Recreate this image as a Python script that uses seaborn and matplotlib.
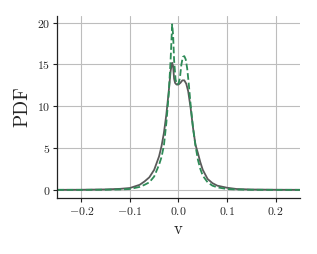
import numpy as np
import pandas as pd
import matplotlib
matplotlib.use("Agg")
import matplotlib.pyplot as plt
import seaborn as sns

# gray solid curve
v_a = [-0.25, -0.2, -0.15, -0.12, -0.1, -0.08, -0.07, -0.06, -0.05, -0.04, -0.035, -0.03, -0.025,
       -0.02, -0.016, -0.013, -0.011, -0.009, -0.007, -0.004, 0.0, 0.004, 0.008, 0.012, 0.016,
       0.02, 0.025, 0.03, 0.035, 0.04, 0.045, 0.05, 0.06, 0.07, 0.08, 0.1, 0.12, 0.15, 0.2, 0.25]
pdf_a = [0.0, 0.01, 0.05, 0.12, 0.22, 0.6, 1.0, 1.5, 2.4, 4.0, 5.2, 6.8, 9.0,
         11.8, 14.3, 15.2, 14.8, 13.3, 12.8, 12.6, 12.6, 12.8, 13.1, 13.1, 12.7,
         11.8, 9.8, 7.4, 5.4, 4.4, 3.3, 2.4, 1.3, 0.8, 0.5, 0.25, 0.1, 0.04, 0.01, 0.0]

# green dashed curve
v_b = [-0.25, -0.2, -0.15, -0.12, -0.1, -0.08, -0.07, -0.06, -0.05, -0.04, -0.035, -0.03, -0.025,
       -0.02, -0.016, -0.013, -0.011, -0.009, -0.006, -0.003, 0.0, 0.003, 0.006, 0.009, 0.012,
       0.015, 0.018, 0.021, 0.025, 0.03, 0.035, 0.04, 0.045, 0.05, 0.06, 0.07, 0.08, 0.1, 0.12,
       0.15, 0.2, 0.25]
pdf_b = [0.0, 0.0, 0.02, 0.05, 0.1, 0.35, 0.6, 0.9, 1.6, 3.0, 3.9, 5.3, 8.0,
         11.5, 15.8, 19.8, 18.5, 15.5, 13.2, 12.6, 12.7, 13.4, 15.0, 15.9, 16.0,
         15.6, 14.5, 12.8, 10.2, 7.4, 5.3, 3.6, 2.5, 1.7, 0.9, 0.5, 0.3, 0.1, 0.04,
         0.01, 0.0, 0.0]

sns.set_style("whitegrid", {"grid.color": "#bdbdbd", "axes.edgecolor": "#222222",
                            "xtick.bottom": True, "ytick.left": True})
plt.rcParams["font.family"] = ["cmr10", "DejaVu Serif"]
plt.rcParams["mathtext.fontset"] = "cm"
plt.rcParams["axes.formatter.use_mathtext"] = True

fig, ax = plt.subplots(figsize=(3.17, 2.54), dpi=100)
fig.subplots_adjust(left=0.18, right=0.946, top=0.937, bottom=0.22)

df_a = pd.DataFrame({"v": v_a, "pdf": pdf_a})
df_b = pd.DataFrame({"v": v_b, "pdf": pdf_b})
sns.lineplot(data=df_a, x="v", y="pdf", ax=ax, color="#5a5a5a", lw=1.3)
sns.lineplot(data=df_b, x="v", y="pdf", ax=ax, color="#2e8b57", lw=1.3, linestyle="--")

ax.set_xlim(-0.25, 0.25)
ax.set_ylim(-0.99, 20.8)
ax.set_xticks([-0.2, -0.1, 0.0, 0.1, 0.2])
ax.set_xticklabels(["$-0.2$", "$-0.1$", "$0.0$", "$0.1$", "$0.2$"])
ax.set_yticks([0, 5, 10, 15, 20])
ax.set_yticklabels(["$0$", "$5$", "$10$", "$15$", "$20$"])
ax.tick_params(labelsize=8.5, length=3, width=0.8, color="#222222", pad=2)
ax.set_xlabel("v", fontsize=12, labelpad=3)
ax.set_ylabel("PDF", fontsize=14, labelpad=4)
for s in ["top", "right"]:
    ax.spines[s].set_visible(False)
for s in ["left", "bottom"]:
    ax.spines[s].set_linewidth(0.9)
ax.grid(True, lw=0.8)

fig.savefig("out.png", dpi=100)
